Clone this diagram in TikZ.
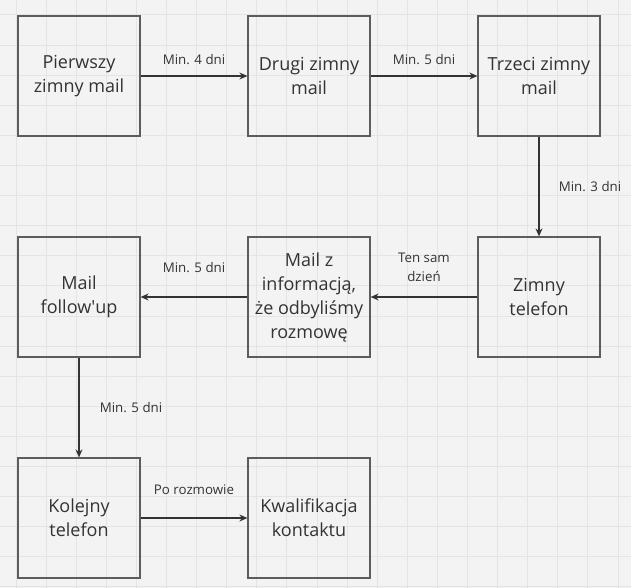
\documentclass[tikz,border=0pt]{standalone}
\usepackage{fontspec}
\setmainfont{Open Sans}
\usetikzlibrary{arrows.meta,positioning}
\tikzset{>={Stealth[length=8pt,width=7pt]}}
\definecolor{paper}{HTML}{F3F3F3}
\definecolor{gridline}{HTML}{E4E4E4}
\definecolor{frame}{HTML}{5C5C5C}
\definecolor{ink}{HTML}{333333}
\tikzstyle{stage} = [rectangle, draw=frame, line width=1.2pt, minimum width=122pt, minimum height=120pt, text=ink, align=center, font=\fontsize{18}{24}\selectfont]
\tikzstyle{flow}  = [->, draw=ink, line width=1.6pt]
\tikzstyle{delay} = [text=ink, inner sep=0pt, align=center, font=\fontsize{13.3}{19}\selectfont]

\begin{document}
\begin{tikzpicture}[node distance = 99.8pt and 106.8pt]
      \fill[paper] (0pt,0pt) rectangle (631pt,-588pt);
      \useasboundingbox (0pt,0pt) rectangle (631pt,-588pt);
      \begin{scope}[shift={(16pt,-15pt)}]
        \draw[gridline, line width=1pt, step=30.1pt] (-16pt,-573pt) grid (615pt,15pt);
      \end{scope}
      % first row
      \node[stage] (first) at (79pt,-76pt) {Pierwszy\\zimny mail};
      \node[stage, right=of first] (second) {Drugi zimny\\mail};
      \node[stage, right=of second] (third) {Trzeci zimny\\mail};
      % second row
      \node[stage, below=of third] (call) {Zimny\\telefon};
      \node[stage, left=of call] (summary) {Mail z\\informacją,\\że odbyliśmy\\rozmowę};
      \node[stage, left=of summary] (followup) {Mail\\follow\textquotesingle up};
      % third row
      \node[stage, below=of followup] (nextcall) {Kolejny\\telefon};
      \node[stage, right=of nextcall] (qualify) {Kwalifikacja\\kontaktu};
      % connectors
      \draw[flow] (first) -- node[delay, yshift=16pt] {Min. 4 dni} (second);
      \draw[flow] (second) -- node[delay, yshift=16pt] {Min. 5 dni} (third);
      \draw[flow] (third) -- node[delay, anchor=west, xshift=19pt] {Min. 3 dni} (call);
      \draw[flow] (call) -- node[delay, yshift=30pt] {Ten sam\\dzień} (summary);
      \draw[flow] (summary) -- node[delay, yshift=29pt] {Min. 5 dni} (followup);
      \draw[flow] (followup) -- node[delay, anchor=west, xshift=20pt] {Min. 5 dni} (nextcall);
      \draw[flow] (nextcall) -- node[delay, yshift=28pt] {Po rozmowie} (qualify);
\end{tikzpicture}
\end{document}
